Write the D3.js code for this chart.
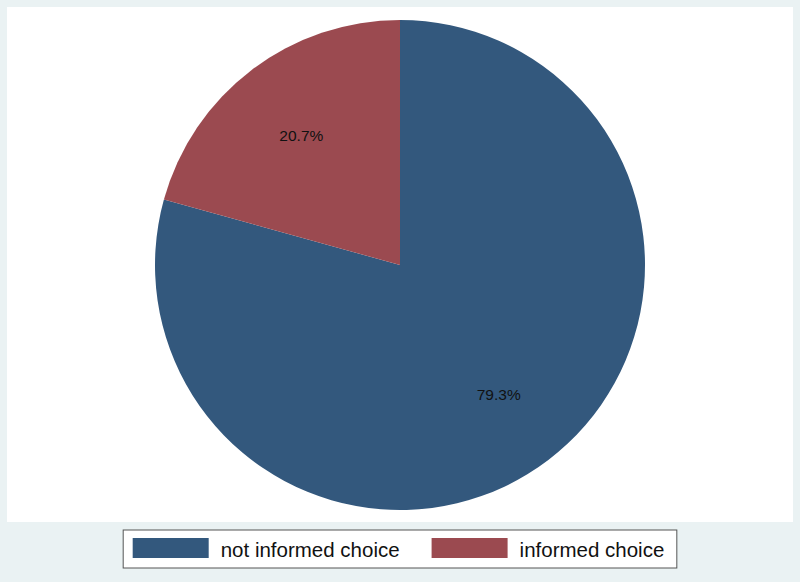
<!DOCTYPE html>
<html>
<head>
<meta charset="utf-8">
<script src="https://cdn.jsdelivr.net/npm/d3@7"></script>
<style>
  body { margin: 0; background: #eaf2f3; }
  svg { display: block; }
</style>
</head>
<body>
<svg width="800" height="582"></svg>
<script>
var categories = ["not informed choice", "informed choice"];
var values = [79.3, 20.7];
var labels = ["79.3%", "20.7%"];

var svg = d3.select("svg"),
    width = +svg.attr("width"),
    height = +svg.attr("height");

var color = d3.scaleOrdinal().domain(categories).range(["#33587d", "#9b4a50"]);

// background and plot region
svg.append("rect").attr("width", width).attr("height", height).attr("fill", "#eaf2f3");
svg.append("rect")
    .attr("x", 7).attr("y", 7)
    .attr("width", 786).attr("height", 515)
    .attr("fill", "#fff");

var cx = 400, cy = 265, radius = 245;

var pie = d3.pie().sort(null).value(function(d) { return d.value; });
var arc = d3.arc().innerRadius(0).outerRadius(radius);
var labelArc = d3.arc().innerRadius(163).outerRadius(163);

var data = categories.map(function(c, i) { return {key: c, value: values[i], label: labels[i]}; });

var g = svg.append("g").attr("transform", "translate(" + cx + "," + cy + ")");

var slices = g.selectAll(".slice")
    .data(pie(data))
    .enter().append("g")
    .attr("class", "slice");

slices.append("path")
    .attr("d", arc)
    .attr("fill", function(d) { return color(d.data.key); });

slices.append("text")
    .attr("transform", function(d) { return "translate(" + labelArc.centroid(d) + ")"; })
    .attr("text-anchor", "middle")
    .attr("dy", "0.36em")
    .style("font", "15.5px 'Liberation Sans', Arial, sans-serif")
    .attr("fill", "#111")
    .text(function(d) { return d.data.label; });

// legend
var legend = svg.append("g");
var box = legend.append("rect")
    .attr("y", 530).attr("height", 38)
    .attr("fill", "#fff")
    .attr("stroke", "#555")
    .attr("stroke-width", 1);

var x = 10;
var items = legend.selectAll(".item")
    .data(categories)
    .enter().append("g")
    .attr("class", "item");

items.append("rect")
    .attr("y", 538)
    .attr("width", 76).attr("height", 20)
    .attr("fill", function(d) { return color(d); });

items.append("text")
    .attr("y", 557)
    .style("font", "20.5px 'Liberation Sans', Arial, sans-serif")
    .attr("fill", "#111")
    .text(function(d) { return d; });

items.each(function(d, i) {
    var item = d3.select(this);
    item.select("rect").attr("x", x);
    item.select("text").attr("x", x + 88);
    x += 88 + item.select("text").node().getComputedTextLength() + (i < categories.length - 1 ? 32 : 13);
});

var left = (width - x) / 2;
box.attr("x", left + 0.5).attr("width", x - 1);
items.attr("transform", "translate(" + left + ",0)");
</script>
</body>
</html>
